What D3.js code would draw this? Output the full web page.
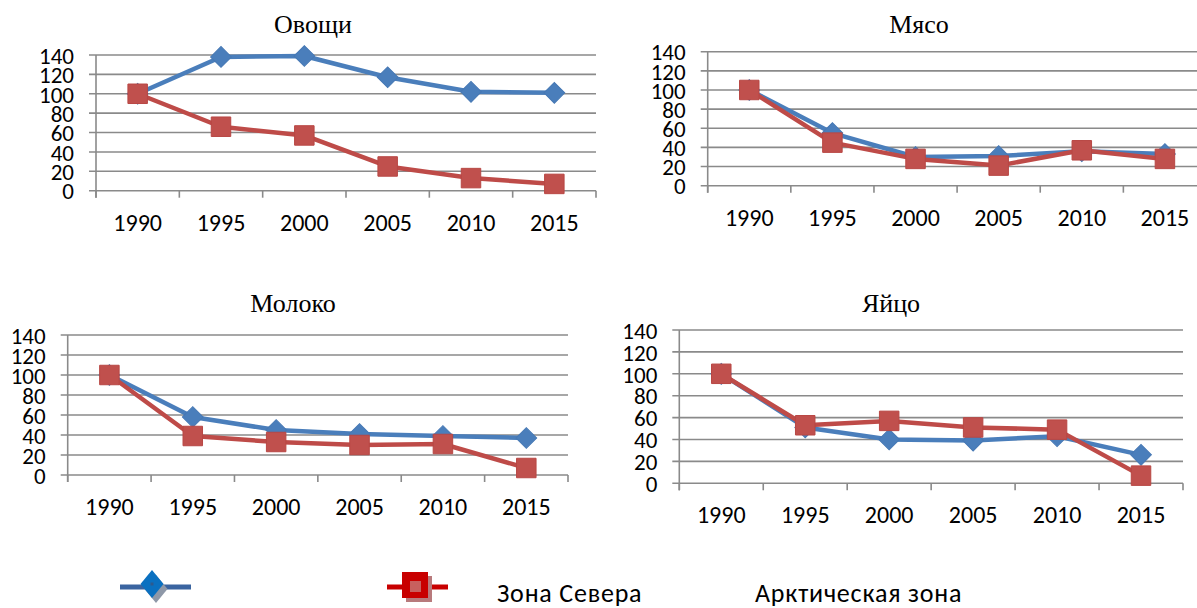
<!DOCTYPE html>
<html>
<head>
<meta charset="utf-8">
<script src="https://cdnjs.cloudflare.com/ajax/libs/d3/7.8.5/d3.min.js"></script>
<style>
  body { margin: 0; background: #fff; }
  svg { display: block; }
  .tick text { font-family: Calibri, Carlito, Lato, sans-serif; fill: #000; }
  .title { font-family: "Liberation Serif", "Times New Roman", serif; font-size: 26px; fill: #000; }
  .legtext { font-family: Calibri, Carlito, Lato, sans-serif; font-size: 26px; letter-spacing: 0.8px; fill: #000; }
</style>
</head>
<body>
<div id="chart"></div>
<script>
// data
var years = ["1990", "1995", "2000", "2005", "2010", "2015"];
var yTicks = [0, 20, 40, 60, 80, 100, 120, 140];
var titles = ["Овощи", "Мясо", "Молоко", "Яйцо"];
var seriesNames = ["Зона Севера", "Арктическая зона"];

var northVeg = [100, 138, 139, 117, 102, 101];
var arcticVeg = [100, 66, 57, 25, 13, 7];
var northMeat = [100, 55, 30, 31, 36, 33];
var arcticMeat = [100, 45, 28, 21, 37, 28];
var northMilk = [100, 58, 45, 41, 39, 37];
var arcticMilk = [100, 39, 33, 30, 31, 7];
var northEgg = [100, 51, 40, 39, 43, 26];
var arcticEgg = [100, 53, 57, 51, 49, 7];

var w = 1197, h = 608;
var blue = "#4a7ebb", red = "#be4b48", grid = "#8a8a8a";

// where each small chart sits on the page
var panels = [
  { title: titles[0], north: northVeg,  arctic: arcticVeg,  l: 96,  r: 596,  t: 55,  b: 190.7, tx: 313, ty: 32.5 },
  { title: titles[1], north: northMeat, arctic: arcticMeat, l: 707.7, r: 1206.5, t: 51.7, b: 185.7, tx: 919, ty: 32.5 },
  { title: titles[2], north: northMilk, arctic: arcticMilk, l: 67.7, r: 568, t: 335, b: 475, tx: 293, ty: 311.5 },
  { title: titles[3], north: northEgg,  arctic: arcticEgg,  l: 679.3, r: 1183, t: 330, b: 483.3, tx: 891, ty: 311.5 }
];

var svg = d3.select("#chart").append("svg")
  .attr("width", w)
  .attr("height", h);

svg.append("rect").attr("width", w).attr("height", h).attr("fill", "#fff");

panels.forEach(function(p) {
  var g = svg.append("g");

  var xScale = d3.scaleBand().domain(years).range([p.l, p.r]);
  var yScale = d3.scaleLinear().domain([0, 140]).range([p.b, p.t]);
  var bw = xScale.bandwidth();

  g.append("text")
    .attr("class", "title")
    .attr("x", p.tx)
    .attr("y", p.ty)
    .attr("text-anchor", "middle")
    .text(p.title);

  // horizontal gridlines, sticking out a bit left of the axis
  g.selectAll(".grid")
    .data(yTicks)
    .enter()
    .append("line")
    .attr("x1", p.l - 7)
    .attr("x2", p.r)
    .attr("y1", d => yScale(d))
    .attr("y2", d => yScale(d))
    .attr("stroke", grid)
    .attr("stroke-width", 1.6);

  // vertical axis line
  g.append("line")
    .attr("x1", p.l).attr("x2", p.l)
    .attr("y1", yScale(140)).attr("y2", yScale(0) + 7)
    .attr("stroke", grid)
    .attr("stroke-width", 1.6);

  // category boundary ticks under the x axis
  var bounds = years.map(d => xScale(d)).concat([xScale(years[years.length - 1]) + bw]);
  g.selectAll(".xt")
    .data(bounds)
    .enter()
    .append("line")
    .attr("x1", d => d).attr("x2", d => d)
    .attr("y1", yScale(0)).attr("y2", yScale(0) + 7)
    .attr("stroke", grid)
    .attr("stroke-width", 1.6);

  var yAxis = d3.axisLeft(yScale).tickValues(yTicks).tickSize(0).tickPadding(22);
  var ya = g.append("g").attr("transform", "translate(" + p.l + ",0)").call(yAxis);
  ya.select(".domain").remove();
  ya.selectAll("text").style("font-size", "23px").attr("dy", "0.36em");

  var xAxis = d3.axisBottom(xScale).tickSize(0).tickPadding(23);
  var xa = g.append("g").attr("transform", "translate(0," + p.b + ")").call(xAxis);
  xa.select(".domain").remove();
  xa.selectAll("text").style("font-size", "24px");

  var line = d3.line()
    .x((d, i) => xScale(years[i]) + bw / 2)
    .y(d => yScale(d));

  // blue series first, red drawn over it
  g.append("path")
    .datum(p.north)
    .attr("d", line)
    .attr("fill", "none")
    .attr("stroke", blue)
    .attr("stroke-width", 4.5)
    .attr("stroke-linejoin", "round");

  g.selectAll(".dia")
    .data(p.north)
    .enter()
    .append("path")
    .attr("d", d3.symbol().type(d3.symbolSquare).size(215))
    .attr("transform", (d, i) => "translate(" + (xScale(years[i]) + bw / 2) + "," + yScale(d) + ") rotate(45)")
    .attr("fill", blue)
    .attr("stroke", "#4678b4")
    .attr("stroke-width", 1);

  g.append("path")
    .datum(p.arctic)
    .attr("d", line)
    .attr("fill", "none")
    .attr("stroke", red)
    .attr("stroke-width", 4.5)
    .attr("stroke-linejoin", "round");

  g.selectAll(".sq")
    .data(p.arctic)
    .enter()
    .append("path")
    .attr("d", d3.symbol().type(d3.symbolSquare).size(380))
    .attr("transform", (d, i) => "translate(" + (xScale(years[i]) + bw / 2) + "," + yScale(d) + ")")
    .attr("fill", "#c0504d")
    .attr("stroke", "#b84744")
    .attr("stroke-width", 1);
});

// legend (markers and names sit apart, as in the picture)
var leg = svg.append("g");

leg.append("line")
  .attr("x1", 120).attr("x2", 191).attr("y1", 587).attr("y2", 587)
  .attr("stroke", "#3a64a0").attr("stroke-width", 5);
leg.append("path")
  .attr("d", "M0,-14 L11.5,0 L0,14 L-11.5,0 Z")
  .attr("transform", "translate(156,589)")
  .attr("fill", "#8e98a8");
leg.append("path")
  .attr("d", "M0,-14 L11.5,0 L0,14 L-11.5,0 Z")
  .attr("transform", "translate(152,584)")
  .attr("fill", "#0a70c0");
leg.append("rect")
  .attr("x", 150.5).attr("y", 582.5).attr("width", 3).attr("height", 3)
  .attr("fill", "#2e5a8e");

leg.append("line")
  .attr("x1", 387).attr("x2", 448).attr("y1", 587).attr("y2", 587)
  .attr("stroke", "#c80000").attr("stroke-width", 5);
leg.append("rect")
  .attr("x", 406).attr("y", 576).attr("width", 26).attr("height", 26)
  .attr("fill", "#b87a7c");
leg.append("rect")
  .attr("x", 402).attr("y", 572).attr("width", 26).attr("height", 26)
  .attr("fill", "#c80000");
leg.append("rect")
  .attr("x", 410).attr("y", 581).attr("width", 11).attr("height", 11)
  .attr("fill", "#c8605e");

leg.selectAll(".legtext")
  .data(seriesNames)
  .enter()
  .append("text")
  .attr("class", "legtext")
  .attr("x", (d, i) => i === 0 ? 497 : 755)
  .attr("y", 602)
  .text(d => d);
</script>
</body>
</html>
